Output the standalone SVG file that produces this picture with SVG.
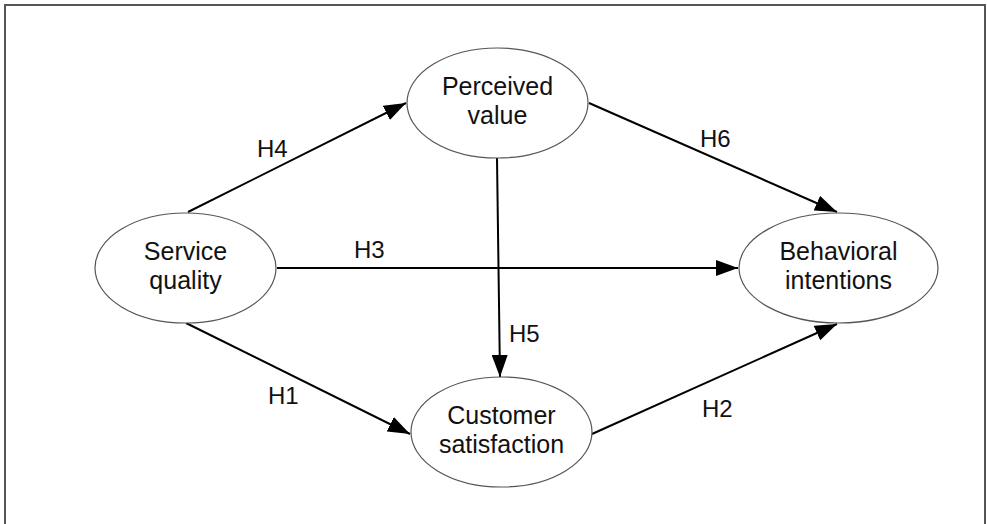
<svg xmlns="http://www.w3.org/2000/svg" width="987" height="524" viewBox="0 0 987 524">
  <style>
    .node ellipse { fill: #ffffff; stroke: #555555; stroke-width: 1.2; }
    .node text { font-family: "Liberation Sans", Arial, sans-serif; font-size: 25px; fill: #111111; text-anchor: middle; }
    .edge { stroke: #000000; stroke-width: 2; fill: none; marker-end: url(#arrow); }
    .label { font-family: "Liberation Sans", Arial, sans-serif; font-size: 24px; fill: #111111; }
  </style>
  <defs>
    <marker id="arrow" markerUnits="userSpaceOnUse" markerWidth="24" markerHeight="16" refX="22" refY="8" orient="auto">
      <path d="M0,0 L22,8 L0,16 Z" fill="#000000"/>
    </marker>
  </defs>
  <rect x="0" y="0" width="987" height="524" fill="#ffffff"/>
  <path d="M5,530 L5,5 L985,5 L985,530" fill="none" stroke="#555555" stroke-width="2"/>

  <g id="connectors">
    <line class="edge" x1="188" y1="212" x2="406" y2="103"/>
    <line class="edge" x1="589" y1="103" x2="837" y2="212"/>
    <line class="edge" x1="277" y1="268" x2="738" y2="268"/>
    <line class="edge" x1="497" y1="158" x2="500" y2="377"/>
    <line class="edge" x1="186" y1="323" x2="410" y2="434"/>
    <line class="edge" x1="592" y1="434" x2="837" y2="324"/>
    <text class="label" x="257" y="157">H4</text>
    <text class="label" x="700" y="147">H6</text>
    <text class="label" x="354" y="258">H3</text>
    <text class="label" x="509" y="342">H5</text>
    <text class="label" x="268" y="404">H1</text>
    <text class="label" x="702" y="417">H2</text>
  </g>

  <g id="service-quality" class="node">
    <ellipse cx="185.5" cy="268" rx="90.5" ry="55"/>
    <text x="185.5" y="260">Service</text>
    <text x="185.5" y="289">quality</text>
  </g>
  <g id="perceived-value" class="node">
    <ellipse cx="497.5" cy="103" rx="90.5" ry="55"/>
    <text x="497.5" y="95">Perceived</text>
    <text x="497.5" y="124">value</text>
  </g>
  <g id="customer-satisfaction" class="node">
    <ellipse cx="501.5" cy="432" rx="90.5" ry="55"/>
    <text x="501.5" y="424">Customer</text>
    <text x="501.5" y="453">satisfaction</text>
  </g>
  <g id="behavioral-intentions" class="node">
    <ellipse cx="838.5" cy="268" rx="99.5" ry="55"/>
    <text x="838.5" y="260">Behavioral</text>
    <text x="838.5" y="289">intentions</text>
  </g>
</svg>
